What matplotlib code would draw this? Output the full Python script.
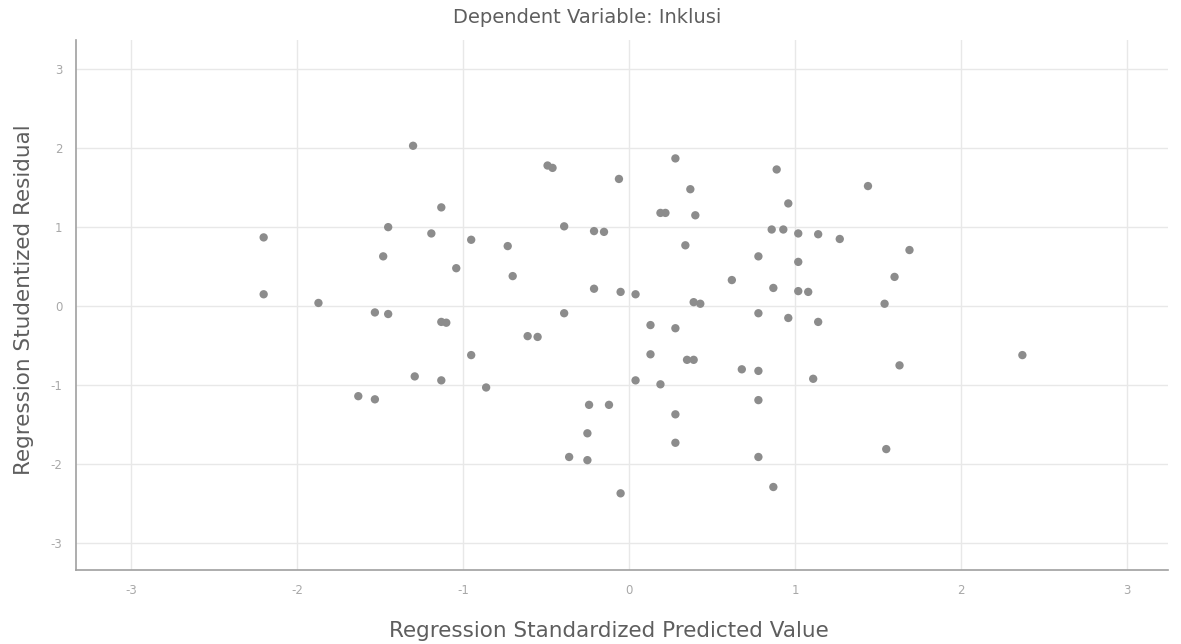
import matplotlib.pyplot as plt

# standardized predicted value (x) and studentized residual (y)
pred = [-2.20, -2.20, -1.87, -1.30, -1.45, -1.48, -1.13, -1.19, -0.95, -1.04,
        -1.53, -1.45, -1.13, -1.10, -0.95, -1.63, -1.53, -1.29, -1.13, -0.86,
        -0.73, -0.70, -0.49, -0.46, -0.39, -0.39, -0.61, -0.55, -0.36, -0.25,
        -0.25, -0.24, -0.12, -0.05, -0.06, -0.21, -0.15, -0.21, -0.05, 0.04,
        0.04, 0.19, 0.13, 0.13, 0.28, 0.37, 0.19, 0.22, 0.40, 0.34,
        0.39, 0.43, 0.28, 0.35, 0.39, 0.28, 0.28, 0.62, 0.68, 0.78,
        0.78, 0.78, 0.78, 0.78, 0.87, 0.87, 0.89, 0.86, 0.93, 0.96,
        1.02, 1.02, 0.96, 1.02, 1.08, 1.14, 1.14, 1.11, 1.27, 1.44,
        1.54, 1.55, 1.60, 1.63, 1.69, 2.37]
resid = [0.87, 0.15, 0.04, 2.03, 1.00, 0.63, 1.25, 0.92, 0.84, 0.48,
         -0.08, -0.10, -0.20, -0.21, -0.62, -1.14, -1.18, -0.89, -0.94, -1.03,
         0.76, 0.38, 1.78, 1.75, 1.01, -0.09, -0.38, -0.39, -1.91, -1.95,
         -1.61, -1.25, -1.25, -2.37, 1.61, 0.95, 0.94, 0.22, 0.18, 0.15,
         -0.94, -0.99, -0.61, -0.24, 1.87, 1.48, 1.18, 1.18, 1.15, 0.77,
         0.05, 0.03, -0.28, -0.68, -0.68, -1.37, -1.73, 0.33, -0.80, 0.63,
         -0.09, -0.82, -1.19, -1.91, 0.23, -2.29, 1.73, 0.97, 0.97, 1.30,
         0.92, 0.56, -0.15, 0.19, 0.18, 0.91, -0.20, -0.92, 0.85, 1.52,
         0.03, -1.81, 0.37, -0.75, 0.71, -0.62]
ticks = [-3, -2, -1, 0, 1, 2, 3]

plt.rcParams['font.family'] = ['DejaVu Sans']
plt.rcParams['axes.unicode_minus'] = False

fig = plt.figure(figsize=(11.81, 6.44), dpi=100)
ax = fig.add_axes([0.0644, 0.115, 0.925, 0.823])

ax.scatter(pred, resid, s=36, color='#8c8c8c', edgecolors='none', zorder=3)

ax.set_xlim(-3.33, 3.25)
ax.set_ylim(-3.34, 3.37)
ax.set_xticks(ticks)
ax.set_yticks(ticks)
ax.grid(True, color='#e8e8e8', linewidth=1)
ax.set_axisbelow(True)
ax.tick_params(length=0, colors='#a8a8a8', labelsize=8.5, pad=10)

for side in ['top', 'right']:
    ax.spines[side].set_visible(False)
for side in ['left', 'bottom']:
    ax.spines[side].set_color('#a0a0a0')
    ax.spines[side].set_linewidth(1.2)

ax.set_xlabel('Regression Standardized Predicted Value', fontsize=15.5,
              color='#5e5e5e')
ax.set_ylabel('Regression Studentized Residual', fontsize=15.5,
              color='#5e5e5e')
ax.xaxis.set_label_coords(0.488, -0.115)
ax.yaxis.set_label_coords(-0.048, 0.51)
ax.yaxis.label.set_va('center')
ax.xaxis.label.set_va('center')
fig.text(0.497, 0.973, 'Dependent Variable: Inklusi', ha='center', va='center',
         fontsize=14, color='#5e5e5e')

fig.savefig('out.png', dpi=100)
